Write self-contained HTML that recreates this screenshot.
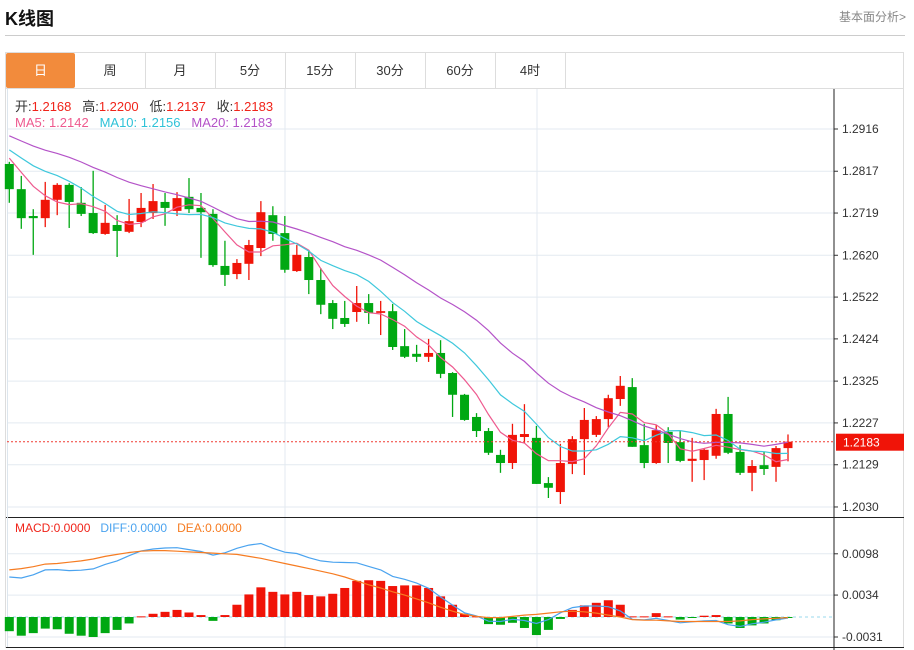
<!DOCTYPE html>
<html><head><meta charset="utf-8">
<style>
body{margin:0;background:#fff;width:914px;height:650px;overflow:hidden;font-family:"Liberation Sans","Noto Sans CJK SC",sans-serif;}
.t{position:absolute;white-space:nowrap;}
</style></head>
<body>
<div class="t" style="left:5px;top:5px;font-size:18px;font-weight:bold;color:#111;">K线图</div>
<div class="t" style="right:8px;top:8px;font-size:12px;color:#888;">基本面分析&gt;</div>
<div style="position:absolute;left:5px;top:35px;width:900px;height:1px;background:#ccc;"></div>
<div style="position:absolute;left:5px;top:52px;width:899px;height:596px;border:1px solid #ddd;box-sizing:border-box;border-bottom:none;"></div>
<div style="position:absolute;left:6px;top:53px;height:35px;width:898px;border-bottom:1px solid #ddd;font-size:13px;color:#333;">
<div style="position:absolute;left:0;width:69px;height:35px;line-height:35px;text-align:center;background:#f28b3c;color:#fff;border-radius:2px;">日</div>
<div style="position:absolute;left:69px;width:70px;height:35px;line-height:35px;text-align:center;border-right:1px solid #ddd;">周</div>
<div style="position:absolute;left:139px;width:70px;height:35px;line-height:35px;text-align:center;border-right:1px solid #ddd;">月</div>
<div style="position:absolute;left:209px;width:70px;height:35px;line-height:35px;text-align:center;border-right:1px solid #ddd;">5分</div>
<div style="position:absolute;left:279px;width:70px;height:35px;line-height:35px;text-align:center;border-right:1px solid #ddd;">15分</div>
<div style="position:absolute;left:349px;width:70px;height:35px;line-height:35px;text-align:center;border-right:1px solid #ddd;">30分</div>
<div style="position:absolute;left:419px;width:70px;height:35px;line-height:35px;text-align:center;border-right:1px solid #ddd;">60分</div>
<div style="position:absolute;left:489px;width:70px;height:35px;line-height:35px;text-align:center;border-right:1px solid #ddd;">4时</div>
</div>
<svg id="chart" width="914" height="650" style="position:absolute;left:0;top:0;font-family:'Liberation Sans','Noto Sans CJK SC',sans-serif;"></svg>
<script>
const opens=[1.2834,1.2775,1.2712,1.2707,1.2750,1.2785,1.2743,1.2719,1.2670,1.2691,1.2675,1.2698,1.2719,1.2745,1.2724,1.2757,1.2731,1.2717,1.2595,1.2576,1.2600,1.2637,1.2714,1.2672,1.2583,1.2616,1.2562,1.2508,1.2473,1.2487,1.2508,1.2485,1.2489,1.2407,1.2389,1.2382,1.2391,1.2344,1.2293,1.2241,1.2208,1.2152,1.2133,1.2194,1.2192,1.2086,1.2065,1.2131,1.2189,1.2199,1.2236,1.2283,1.2311,1.2175,1.2133,1.2206,1.2182,1.2138,1.2140,1.2150,1.2248,1.2159,1.2110,1.2128,1.2124,1.2168];
const highs=[1.2839,1.2806,1.2728,1.2792,1.2789,1.2789,1.2780,1.2818,1.2738,1.2714,1.2752,1.2766,1.2787,1.2766,1.2768,1.2801,1.2766,1.2728,1.2654,1.2611,1.2656,1.2747,1.2735,1.2712,1.2644,1.2630,1.2590,1.2515,1.2513,1.2548,1.2529,1.2513,1.2506,1.2447,1.2410,1.2424,1.2421,1.2346,1.2295,1.2250,1.2215,1.2164,1.2225,1.2271,1.2220,1.2100,1.2178,1.2196,1.2262,1.2243,1.2293,1.2337,1.2332,1.2225,1.2222,1.2217,1.2208,1.2192,1.2168,1.2260,1.2288,1.2175,1.2140,1.2159,1.2173,1.2200];
const lows=[1.2743,1.2682,1.2621,1.2686,1.2714,1.2684,1.2712,1.2670,1.2668,1.2616,1.2672,1.2686,1.2705,1.2689,1.2712,1.2719,1.2614,1.2593,1.2548,1.2564,1.2562,1.2618,1.2654,1.2579,1.2581,1.2529,1.2482,1.2447,1.2452,1.2464,1.2459,1.2433,1.2398,1.2379,1.2370,1.2370,1.2332,1.2241,1.2232,1.2194,1.2152,1.2110,1.2119,1.2180,1.2084,1.2051,1.2037,1.2107,1.2105,1.2194,1.2217,1.2267,1.2171,1.2121,1.2131,1.2133,1.2135,1.2089,1.2093,1.2143,1.2154,1.2105,1.2067,1.2105,1.2089,1.2137];
const closes=[1.2775,1.2707,1.2707,1.2750,1.2785,1.2745,1.2717,1.2672,1.2696,1.2677,1.2700,1.2731,1.2747,1.2731,1.2754,1.2728,1.2721,1.2597,1.2574,1.2602,1.2644,1.2721,1.2670,1.2586,1.2621,1.2562,1.2504,1.2471,1.2459,1.2508,1.2485,1.2489,1.2405,1.2382,1.2382,1.2391,1.2342,1.2293,1.2234,1.2208,1.2157,1.2133,1.2199,1.2201,1.2084,1.2075,1.2133,1.2189,1.2234,1.2236,1.2285,1.2314,1.2171,1.2133,1.2210,1.2180,1.2138,1.2143,1.2164,1.2248,1.2157,1.2110,1.2126,1.2119,1.2168,1.2183];
const priorCloses=[1.2950,1.2945,1.2940,1.2935,1.2930,1.2935,1.2925,1.2920,1.2930,1.2920,1.2895,1.2890,1.2880,1.2885,1.2880,1.2875,1.2870,1.2860,1.2859];
const macdHist=[-0.0022,-0.0029,-0.0025,-0.0018,-0.0019,-0.0026,-0.0029,-0.0031,-0.0025,-0.0020,-0.0010,0.0001,0.0005,0.0008,0.0011,0.0007,0.0003,-0.0006,0.0003,0.0019,0.0035,0.0046,0.0039,0.0035,0.0039,0.0034,0.0032,0.0036,0.0045,0.0056,0.0057,0.0056,0.0048,0.0049,0.0049,0.0045,0.0032,0.0019,0.0005,0.0001,-0.0011,-0.0012,-0.0009,-0.0017,-0.0028,-0.0020,-0.0003,0.0011,0.0018,0.0022,0.0026,0.0019,0.0001,0.0001,0.0006,0.0001,-0.0004,-0.0001,0.0002,0.0003,-0.0010,-0.0017,-0.0013,-0.0010,-0.0005,-0.0001];
const deaVals=[0.0073,0.0075,0.0078,0.0082,0.0083,0.0085,0.0087,0.0090,0.0094,0.0097,0.0100,0.0102,0.0103,0.0103,0.0102,0.0101,0.0100,0.0099,0.0098,0.0097,0.0094,0.0091,0.0087,0.0083,0.0079,0.0075,0.0071,0.0067,0.0062,0.0056,0.0050,0.0045,0.0039,0.0034,0.0028,0.0022,0.0015,0.0009,0.0004,0.0001,-0.0001,-0.0001,0.0001,0.0003,0.0004,0.0006,0.0008,0.0009,0.0008,0.0006,0.0003,0.0000,-0.0004,-0.0005,-0.0005,-0.0006,-0.0007,-0.0007,-0.0007,-0.0007,-0.0007,-0.0006,-0.0004,-0.0003,-0.0002,-0.0001];
const priceTicks=["1.2916","1.2817","1.2719","1.2620","1.2522","1.2424","1.2325","1.2227","1.2129","1.2030"];
const macdTicks=["0.0098","0.0034","-0.0031"];

const NS="http://www.w3.org/2000/svg";
const svg=document.getElementById('chart');
function mk(tag,attrs,parent){const e=document.createElementNS(NS,tag);for(const k in attrs)e.setAttribute(k,attrs[k]);(parent||svg).appendChild(e);return e;}
const X0=9.3,DX=11.98,AXIS=834;
const xOf=i=>X0+DX*i;
const yP=p=>129+(1.2916-p)*4266;
const yM=v=>617-v*6450;
// grids
priceTicks.forEach(t=>{const y=yP(parseFloat(t));
 const g=mk('line',{x1:7,x2:AXIS,y1:y,y2:y,stroke:'#e3eaf0','stroke-width':1});
 
 const tk=mk('line',{x1:AXIS,x2:AXIS+4,y1:y,y2:y,stroke:'#333'});
 
 const tx=mk('text',{x:842,y:y+4,'font-size':12,fill:'#333'});tx.textContent=t;
 
});
macdTicks.forEach(t=>{const y=yM(parseFloat(t));
 const g=mk('line',{x1:7,x2:AXIS,y1:y,y2:y,stroke:'#e3eaf0'});
 
 const tk=mk('line',{x1:AXIS,x2:AXIS+4,y1:y,y2:y,stroke:'#333'});
 
 const tx=mk('text',{x:842,y:y+4,'font-size':12,fill:'#333'});tx.textContent=t;
 
});
[285,537].forEach(x=>{const v=mk('line',{x1:x,x2:x,y1:89,y2:647,stroke:'#e3eaf0'});
 });
const ax=mk('line',{x1:AXIS,x2:AXIS,y1:89,y2:650,stroke:'#222'});

const sep=mk('line',{x1:6,x2:904,y1:517.5,y2:517.5,stroke:'#222'});

const bot=mk('line',{x1:6,x2:904,y1:647.5,y2:647.5,stroke:'#222'});

const lft=mk('line',{x1:7.5,x2:7.5,y1:89,y2:647,stroke:'#dde6ee'});

// candles
const RED='#f01408',GREEN='#00a812';
for(let i=0;i<closes.length;i++){
 const x=xOf(i),up=closes[i]>=opens[i],col=up?RED:GREEN;
 const g=mk('g',{});
 mk('line',{x1:x,x2:x,y1:yP(highs[i]),y2:yP(lows[i]),stroke:col,'stroke-width':1.3},g);
 const t=Math.min(yP(opens[i]),yP(closes[i])),h=Math.max(1.5,Math.abs(yP(opens[i])-yP(closes[i])));
 mk('rect',{x:x-4.5,y:t,width:9,height:h,fill:col},g);
}
// MAs
const all=priorCloses.concat(closes);
function ma(n){return closes.map((c,i)=>{const j=i+priorCloses.length;let s=0;for(let k=j-n+1;k<=j;k++)s+=all[k];return s/n;});}
[[5,'#ee5a8f','ma5-line'],[10,'#3fc8dc','ma10-line'],[20,'#b453c8','ma20-line']].forEach(([n,c,nm])=>{
 const v=ma(n);const p=mk('path',{d:v.map((m,i)=>(i?'L':'M')+xOf(i).toFixed(1)+','+yP(m).toFixed(1)).join(''),fill:'none',stroke:c,'stroke-width':1.2});
 
});
// current price
const last=closes[closes.length-1],ly=yP(last);
const cl=mk('line',{x1:7,x2:AXIS,y1:ly,y2:ly,stroke:'#f03c32','stroke-dasharray':'2,2'});

const cb=mk('rect',{x:836,y:ly-8,width:68,height:17,fill:'#f01408'});

const ct=mk('text',{x:843,y:ly+5,'font-size':12,fill:'#fff'});ct.textContent=last.toFixed(4);

// MACD
const z=mk('line',{x1:7,x2:AXIS,y1:yM(0),y2:yM(0),stroke:'#9ad8ee','stroke-dasharray':'3,3'});

macdHist.forEach((v,i)=>{const y0=yM(0),y1=yM(v);
 const r=mk('rect',{x:xOf(i)-4.5,y:Math.min(y0,y1),width:9,height:Math.max(1,Math.abs(y1-y0)),fill:v>=0?RED:GREEN});
 });
const difVals=deaVals.map((d,i)=>d+macdHist[i]/2);
[[difVals,'#4aa3ef','diff-line'],[deaVals,'#f67c22','dea-line']].forEach(([arr,c,nm])=>{
 const p=mk('path',{d:arr.map((m,i)=>(i?'L':'M')+xOf(i).toFixed(1)+','+yM(m).toFixed(1)).join(''),fill:'none',stroke:c,'stroke-width':1.2});
 });
</script>
<div class="t" style="left:15px;top:96px;font-size:13px;color:#333;">开:<span style="color:#f0241a">1.2168</span>&nbsp;&nbsp;&nbsp;高:<span style="color:#f0241a">1.2200</span>&nbsp;&nbsp;&nbsp;低:<span style="color:#f0241a">1.2137</span>&nbsp;&nbsp;&nbsp;收:<span style="color:#f0241a">1.2183</span></div>
<div class="t" style="left:15px;top:115px;font-size:13px;"><span style="color:#ee5a8f">MA5: 1.2142</span>&nbsp;&nbsp;&nbsp;<span style="color:#2fc2d8">MA10: 1.2156</span>&nbsp;&nbsp;&nbsp;<span style="color:#b453c8">MA20: 1.2183</span></div>
<div class="t" style="left:15px;top:521px;font-size:12px;"><span style="color:#f0241a">MACD:0.0000</span>&nbsp;&nbsp;&nbsp;<span style="color:#4aa3ef">DIFF:0.0000</span>&nbsp;&nbsp;&nbsp;<span style="color:#f67c22">DEA:0.0000</span></div>
</body></html>
